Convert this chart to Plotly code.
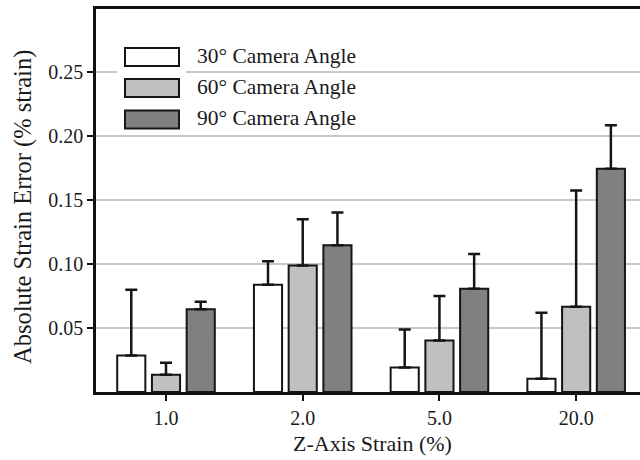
import plotly.graph_objects as go

categories = ["1.0", "2.0", "5.0", "20.0"]
series_names = ["30° Camera Angle", "60° Camera Angle", "90° Camera Angle"]
values_30 = [0.0286, 0.0838, 0.0192, 0.0104]
values_60 = [0.0135, 0.0989, 0.0403, 0.0666]
values_90 = [0.0648, 0.1148, 0.0807, 0.1745]
err_30 = [0.0514, 0.0185, 0.0297, 0.0516]
err_60 = [0.0094, 0.0361, 0.0347, 0.0909]
err_90 = [0.0057, 0.0255, 0.0273, 0.0341]
y_ticks = [0.05, 0.10, 0.15, 0.20, 0.25]
y_tick_labels = ["0.05", "0.10", "0.15", "0.20", "0.25"]
x_title = "Z-Axis Strain (%)"
y_title = "Absolute Strain Error (% strain)"

colors = ["#ffffff", "#c0c0c0", "#808080"]
xs = list(range(len(categories)))
FONT = "Liberation Serif"
INK = "#151515"
TXT = "#1a1a1a"

W, H = 640, 460
ML, MR, MT, MB = 96, 0, 9, 68
PW, PH = W - ML - MR, H - MT - MB


def px(x):
    return (x - ML) / PW


def py(y):
    return 1 - (y - MT) / PH


fig = go.Figure()
for name, vals, errs, col in zip(series_names, [values_30, values_60, values_90],
                                 [err_30, err_60, err_90], colors):
    fig.add_trace(go.Bar(
        x=xs, y=vals, name=name,
        marker=dict(color=col, line=dict(color=INK, width=2)),
        error_y=dict(type="data", array=errs, arrayminus=[0] * len(errs), symmetric=False,
                     color=INK, thickness=2.5, width=6),
    ))

# custom legend (wide rectangular swatches like the reference)
shapes = [dict(type="rect", xref="paper", yref="paper", layer="above",
               x0=px(117), x1=px(186), y0=py(135), y1=py(40),
               fillcolor="white", line=dict(width=0))]
annotations = []
row_y = [57, 88, 119.5]
for name, col, yc in zip(series_names, colors, row_y):
    shapes.append(dict(type="rect", xref="paper", yref="paper", layer="above",
                       x0=px(125), x1=px(179), y0=py(yc + 9), y1=py(yc - 9),
                       fillcolor=col, line=dict(color=INK, width=2)))
    annotations.append(dict(text=name, xref="paper", yref="paper",
                            x=px(195), y=py(yc - 1.5), xanchor="left", yanchor="middle",
                            showarrow=False, font=dict(family=FONT, size=21.5, color=TXT)))

# axis titles
annotations.append(dict(text=x_title, xref="paper", yref="paper",
                        x=px(372), y=py(443), xanchor="center", yanchor="middle",
                        showarrow=False, font=dict(family=FONT, size=22, color=TXT)))
annotations.append(dict(text=y_title, xref="paper", yref="paper", textangle=-90,
                        x=px(23), y=py(207), xanchor="center", yanchor="middle",
                        showarrow=False, font=dict(family=FONT, size=24.5, color=TXT)))

fig.update_layout(
    width=W, height=H,
    margin=dict(l=ML, r=MR, t=MT, b=MB),
    paper_bgcolor="white", plot_bgcolor="white",
    barmode="group", bargap=0.238, bargroupgap=0.19,
    font=dict(family=FONT, size=20, color=TXT),
    showlegend=False,
    shapes=shapes,
    annotations=annotations,
    xaxis=dict(
        tickmode="array", tickvals=xs, ticktext=categories,
        range=[-0.512, 3.467],
        showline=True, linecolor="#111", linewidth=2.5, mirror=True,
        ticks="outside", ticklen=6, tickwidth=2, tickcolor="#111",
        tickfont=dict(family=FONT, size=20, color=TXT),
        showgrid=False, zeroline=False, automargin=False,
    ),
    yaxis=dict(
        range=[0, 0.2995],
        tickmode="array", tickvals=y_ticks, ticktext=y_tick_labels,
        showline=True, linecolor="#111", linewidth=2.5,
        ticks="outside", ticklen=6, tickwidth=2, tickcolor="#111",
        tickfont=dict(family=FONT, size=20, color=TXT),
        showgrid=True, gridcolor="#c8c8c8", gridwidth=1.5,
        zeroline=False, automargin=False,
    ),
)

fig.write_html("out.html",
               config={"displayModeBar": False},
               post_script="document.body.style.margin='0';document.body.style.overflow='hidden';")
